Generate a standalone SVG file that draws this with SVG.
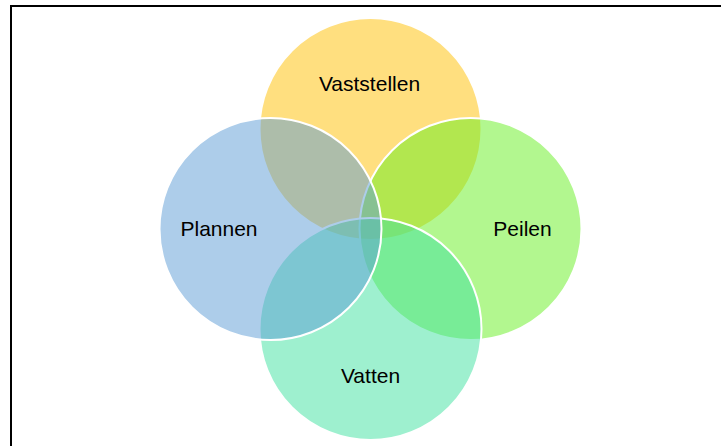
<svg xmlns="http://www.w3.org/2000/svg" width="721" height="446" viewBox="0 0 721 446">
  <style>
    .ring { fill-opacity: 0.5; stroke: #FFFFFF; stroke-width: 2; }
    .label { font-family: "Liberation Sans", Arial, sans-serif; font-size: 21px; fill: #000000; text-anchor: middle; }
  </style>
  <rect x="0" y="0" width="721" height="446" fill="#FFFFFF"/>
  <rect id="frame" x="11" y="6" width="730" height="460" fill="none" stroke="#000000" stroke-width="2"/>
  <g id="connectors"></g>
  <g id="node-vaststellen">
    <circle class="ring" cx="370.5" cy="129" r="111" fill="#FFC000"/>
    <text class="label" x="369.5" y="91">Vaststellen</text>
  </g>
  <g id="node-peilen">
    <circle class="ring" cx="470.5" cy="229" r="111" fill="#65EF1F"/>
    <text class="label" x="522.5" y="236">Peilen</text>
  </g>
  <g id="node-vatten">
    <circle class="ring" cx="370.5" cy="329" r="111" fill="#3DE19F"/>
    <text class="label" x="370.5" y="383">Vatten</text>
  </g>
  <g id="node-plannen">
    <circle class="ring" cx="270.5" cy="229" r="111" fill="#5B9BD5"/>
    <text class="label" x="219" y="236">Plannen</text>
  </g>
</svg>
